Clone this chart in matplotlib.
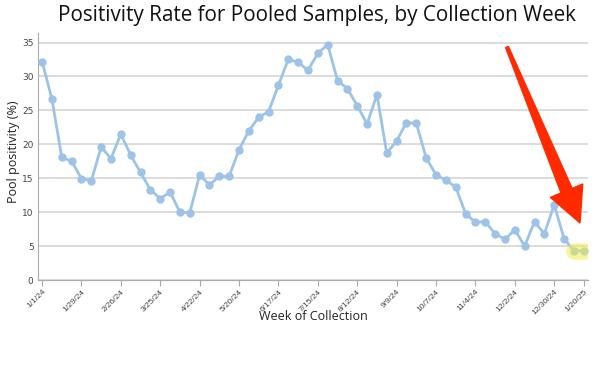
import numpy as np
import pandas as pd
import matplotlib
matplotlib.use("Agg")
import matplotlib.pyplot as plt
from matplotlib.patches import Polygon

# weekly pooled positivity (%), weeks starting 1/1/24
weeks = pd.date_range("2024-01-01", "2025-01-20", freq="7D")
positivity = [
    32.2, 26.7, 18.1, 17.5, 14.95, 14.6, 19.6, 17.9, 21.5, 18.4,
    15.85, 13.3, 12.0, 12.95, 10.0, 9.9, 15.5, 14.0, 15.3, 15.3,
    19.2, 22.0, 24.0, 24.8, 28.7, 32.5, 32.1, 30.9, 33.4, 34.7,
    29.4, 28.2, 25.7, 23.0, 27.3, 18.7, 20.5, 23.2, 23.1, 18.0,
    15.5, 14.7, 13.7, 9.8, 8.5, 8.6, 6.8, 6.0, 7.4, 5.0,
    8.6, 6.8, 11.1, 6.1, 4.3, 4.3,
]
tick_idx = list(range(0, 53, 4)) + [55]
tick_labels = [f"{d.month}/{d.day}/{d.strftime('%y')}" for d in weeks[tick_idx]]
highlight_idx = [54, 55]

W, H = 600, 370
fig = plt.figure(figsize=(6, 3.7), dpi=100)
ax = fig.add_axes([37.7 / W, 1 - 280 / H, (588 - 37.7) / W, (280 - 33) / H])

x = np.arange(len(weeks))
ax.plot(x, positivity, color="#9dc3e6", lw=2, marker="o", ms=5, zorder=3)

# yellow highlight on latest weeks
ax.plot(x[highlight_idx], [positivity[i] for i in highlight_idx], color="#f2ee50",
        lw=12, alpha=0.55, solid_capstyle="round", zorder=4)

ax.set_xlim(-0.44, 55.43)
ax.set_ylim(0, 36.4)
ax.set_yticks(range(0, 36, 5))
ax.set_xticks(tick_idx)
ax.set_xticklabels(tick_labels, rotation=45, ha="right", rotation_mode="anchor",
                   fontsize=6, color="#444444", family="Liberation Sans")
ax.tick_params(axis="y", labelsize=6.5, labelcolor="#444444", length=0, pad=3)
ax.tick_params(axis="x", color="#aaaaaa", length=4, width=0.8, pad=2)
ax.grid(axis="y", color="#d6d6d6", lw=1.2)
ax.set_axisbelow(True)
for s in ["top", "right"]:
    ax.spines[s].set_visible(False)
for s in ["left", "bottom"]:
    ax.spines[s].set_color("#aaaaaa")
    ax.spines[s].set_linewidth(0.8)

fig.text(14 / W, 1 - 152 / H, "Pool positivity (%)", rotation=90, ha="center", va="center",
         fontsize=9, family="Open Sans", color="#222222")
fig.text(313 / W, 1 - 316 / H, "Week of Collection", ha="center", va="center",
         fontsize=9, family="Open Sans", color="#222222")
fig.text(317 / W, 1 - 15 / H, "Positivity Rate for Pooled Samples, by Collection Week",
         ha="center", va="center", fontsize=14.9, family="Open Sans", color="#111111")

# red call-out arrow (figure pixels)
start = np.array([507.0, 47.0])
tip = np.array([580.0, 223.0])
u = (tip - start) / np.linalg.norm(tip - start)
n = np.array([-u[1], u[0]])
head_len, head_w, w0, w1 = 35, 35, 3, 12
base = tip - u * head_len
pts = [start + n * w0 / 2, base + n * w1 / 2, base + n * head_w / 2, tip,
       base - n * head_w / 2, base - n * w1 / 2, start - n * w0 / 2]
pts = [(p[0] / W, 1 - p[1] / H) for p in pts]
fig.patches.append(Polygon(pts, closed=True, transform=fig.transFigure,
                           color="#ff2a00", zorder=10))

fig.savefig("out.png", dpi=100)
